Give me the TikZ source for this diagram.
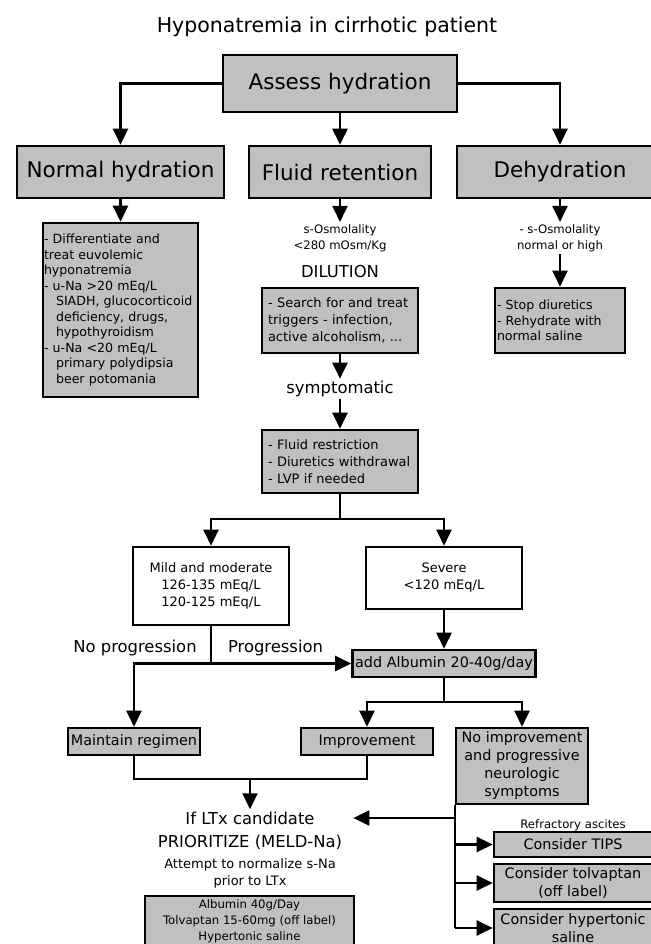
\documentclass[tikz,border=0pt]{standalone}
\usepackage{fontspec}
\setmainfont{DejaVu Sans}
\usetikzlibrary{arrows.meta}

\definecolor{boxgray}{RGB}{192,192,192}

\newcommand{\ftitle}{\fontsize{10.25}{12}\selectfont}
\newcommand{\fbig}{\fontsize{10.75}{13}\selectfont}
\newcommand{\fmid}{\fontsize{8.2}{10}\selectfont}
\newcommand{\fmed}{\fontsize{7.2}{9}\selectfont}
\newcommand{\fsml}{\fontsize{6.5}{8.5}\selectfont}
\newcommand{\fnote}{\fontsize{6.3}{7.75}\selectfont}
\newcommand{\ftiny}{\fontsize{5.85}{8}\selectfont}

\tikzset{
  box/.style={draw, line width=1.3pt, fill=boxgray, inner sep=0pt, align=center},
  arr/.style={line width=1.1pt, -{Triangle[width=7.5pt,length=8pt]}},
  line/.style={line width=1.1pt},
}

\begin{document}
\begin{tikzpicture}[x=0.5pt, y=-0.5pt]

    % fondo
    \fill[white] (0,0) rectangle (651,944);
    \useasboundingbox (0,0) rectangle (651,944);

    % titulo
    \node[font=\ftitle] (title) at (327,27) {Hyponatremia in cirrhotic patient};

    % hidratacion
    \node[box, font=\fbig, minimum width=117pt, minimum height=28.5pt] (assess) at (340,83.5) {Assess hydration};
    \node[box, font=\fbig, minimum width=103.5pt, minimum height=26pt] (normal) at (120.5,172) {Normal hydration};
    \node[box, font=\fbig, minimum width=91pt, minimum height=26pt] (fluid) at (340,172) {Fluid retention};
    \node[box, font=\fbig, minimum width=103pt, minimum height=26pt] (dehyd) at (560,172) {Dehydration};

    % normal hydration
    \node[box, font=\fnote, align=left, text width=76.5pt, inner xsep=0.5pt, minimum height=87pt] (differ) at (120.5,310)
      {- Differentiate and\\treat euvolemic\\hyponatremia\\- u-Na >20 mEq/L\\\hspace*{6pt}SIADH, glucocorticoid\\\hspace*{6pt}deficiency, drugs,\\\hspace*{6pt}hypothyroidism\\- u-Na <20 mEq/L\\\hspace*{6pt}primary polydipsia\\\hspace*{6pt}beer potomania};

    % fluid retention
    \node[font=\ftiny, align=center, inner sep=1pt] (osm) at (340,238) {s-Osmolality\\<280 mOsm/Kg};
    \node[font=\fmid] (dil) at (340,272) {DILUTION};
    \node[box, font=\fsml, align=left, text width=72pt, inner xsep=3pt, minimum height=32.5pt] (search) at (340,320.5)
      {- Search for and treat\\triggers - infection,\\active alcoholism, ...};
    \node[font=\fmid, inner sep=1pt] (symp) at (340,389) {symptomatic};
    \node[box, font=\fsml, align=left, text width=72pt, inner xsep=3pt, minimum height=31.5pt] (fr) at (340,461.5)
      {- Fluid restriction\\- Diuretics withdrawal\\- LVP if needed};

    % dehydration
    \node[font=\ftiny, align=center, inner sep=1pt] (rosm) at (560,238) {- s-Osmolality\\normal or high};
    \node[box, font=\fnote, align=left, text width=63pt, inner xsep=1pt, minimum height=32.5pt] (stop) at (560,320.5)
      {- Stop diuretics\\- Rehydrate with\\normal saline};

    % severidad
    \node[box, fill=white, font=\fsml, minimum width=78pt, minimum height=39pt] (mild) at (211,586)
      {Mild and moderate\\126-135 mEq/L\\120-125 mEq/L};
    \node[box, fill=white, font=\fsml, minimum width=78pt, minimum height=31pt] (severe) at (444,578)
      {Severe\\<120 mEq/L};
    \node[box, font=\fmed, minimum width=91.5pt, minimum height=13.5pt] (albumin) at (444,663.5) {add Albumin 20-40g/day};
    \node[font=\fmid] (noprog) at (135,648) {No progression};
    \node[font=\fmid] (prog) at (275.5,648) {Progression};

    % respuesta
    \node[box, font=\fmed, minimum width=66pt, minimum height=13.5pt] (maintain) at (134,741.5) {Maintain regimen};
    \node[box, font=\fmed, minimum width=66pt, minimum height=13.5pt] (improve) at (367,741.5) {Improvement};
    \node[box, font=\fmed, minimum width=66pt, minimum height=38pt] (noimp) at (522,766)
      {No improvement\\and progressive\\neurologic\\symptoms};

    % trasplante
    \node[font=\fmid, minimum width=103pt, inner sep=1pt] (ltx) at (250,818) {If LTx candidate};
    \node[font=\fmid] (prior) at (250,842) {PRIORITIZE (MELD-Na)};
    \node[font=\fsml, align=center] (attempt) at (250,873) {Attempt to normalize s-Na\\prior to LTx};
    \node[box, font=\ftiny, minimum width=104.5pt, minimum height=25.5pt] (meds) at (249.5,921.5)
      {\fontsize{5.85}{7.25}\selectfont Albumin 40g/Day\\Tolvaptan 15-60mg (off label)\\Hypertonic saline};

    % opciones
    \node[font=\ftiny] (refr) at (573,825) {Refractory ascites};
    \node[box, font=\fmed, minimum width=79pt, minimum height=12.5pt] (tips) at (573,844.5) {Consider TIPS};
    \node[box, font=\fmed, minimum width=79pt, minimum height=19pt] (tolv) at (573,883) {Consider tolvaptan\\(off label)};
    \node[box, font=\fmed, minimum width=79pt, minimum height=19pt] (hyper) at (573,928) {Consider hypertonic\\saline};

    % conectores
    \draw[arr] (assess) -| (normal);
    \draw[arr] (assess) -- (fluid);
    \draw[arr] (assess) -| (dehyd);
    \draw[arr] (normal) -- (differ);
    \draw[arr] (fluid) -- (osm);
    \draw[arr] (search) -- (symp);
    \draw[arr] (symp) -- (fr);
    \draw[arr] (dehyd) -- (rosm);
    \draw[arr] (rosm) -- (stop);

    \coordinate (split1) at (340,519);
    \draw[line] (fr) -- (split1);
    \draw[arr] (split1) -| (mild);
    \draw[arr] (split1) -| (severe);

    \draw[arr] (mild) |- (albumin);
    \coordinate (fork) at (mild.south |- albumin.west);
    \draw[arr] (fork) -| (maintain);
    \draw[arr] (severe) -- (albumin);

    \coordinate (split2) at (444,702);
    \draw[line] (albumin) -- (split2);
    \draw[arr] (split2) -| (improve);
    \draw[arr] (split2) -| (noimp);

    \coordinate (join) at (250,779);
    \draw[line] (maintain) |- (join) -| (improve);
    \draw[arr] (join) -- (ltx);

    \draw[line] (noimp.south west) -- (noimp.south west |- hyper.west);
    \draw[arr] (noimp.south west |- ltx.east) -- (ltx.east);
    \foreach \n in {tips,tolv,hyper}
      \draw[arr] (noimp.south west |- \n.west) -- (\n.west);

\end{tikzpicture}
\end{document}
